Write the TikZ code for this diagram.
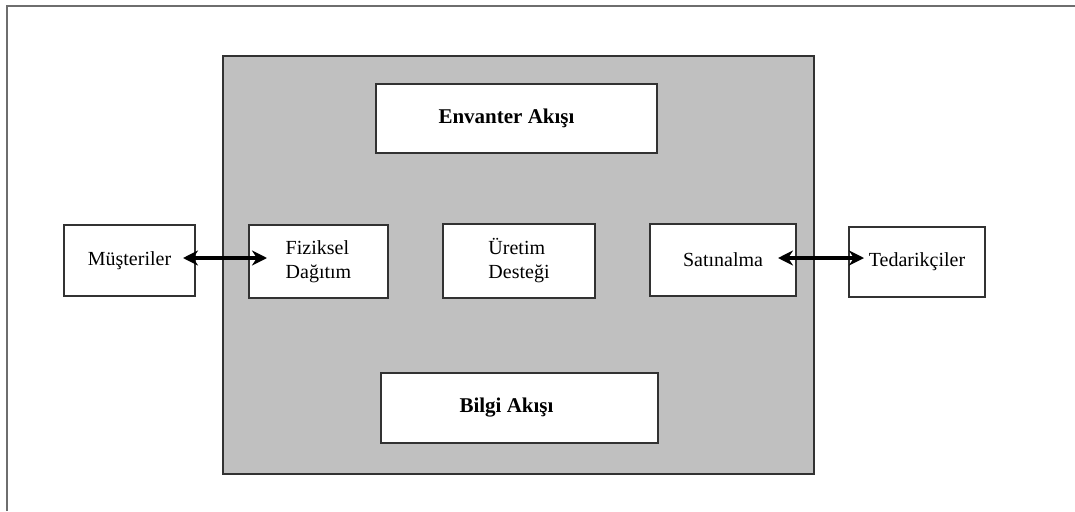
\documentclass[tikz,border=0pt]{standalone}
\usepackage{fontspec}
\setmainfont{Liberation Serif}
\usetikzlibrary{arrows.meta}
\definecolor{panelgrey}{RGB}{192,192,192}
\definecolor{edgegrey}{RGB}{50,50,50}
\definecolor{framegrey}{RGB}{110,110,110}
\begin{document}
\begin{tikzpicture}[x=1pt,y=-1pt,
  box/.style={draw=edgegrey,line width=2.2pt,fill=white,inner sep=0pt,outer sep=0pt,
    font=\fontsize{20}{24}\selectfont},
  bigbox/.style={box,font=\fontsize{21}{25}\selectfont\bfseries},
  link/.style={line width=3.4pt,{Stealth[length=15pt,width=15pt]}-{Stealth[length=15pt,width=15pt]}}]
  \useasboundingbox (0,0) rectangle (1075,511);
  % page frame (left and top edges only)
  \draw[framegrey,line width=2.4pt] (7,511) -- (7,6) -- (1075,6);
  % grey panel holding the internal functions
  \node[draw=edgegrey,line width=2.6pt,fill=panelgrey,minimum width=591pt,minimum height=418pt,
        inner sep=0pt] (panel) at (518.5,265) {};
  % flows
  \node[bigbox,minimum width=281pt,minimum height=69pt] (env) at (516.5,118.5) {\hspace*{-20pt}Envanter Akışı};
  \node[bigbox,minimum width=277pt,minimum height=70pt] (bilgi) at (519.5,408) {\hspace*{-26pt}Bilgi Akışı};
  % functions
  \node[box,minimum width=139pt,minimum height=73pt,align=left] (fiz) at (318.5,261.5) {Fiziksel\\Dağıtım};
  \node[box,minimum width=152pt,minimum height=74pt,align=left] (uret) at (519,261) {Üretim\\Desteği};
  \node[box,minimum width=146pt,minimum height=72pt] (satin) at (723,260) {Satınalma};
  % external parties
  \node[box,minimum width=131pt,minimum height=71pt] (mus) at (129.5,260.5) {Müşteriler};
  \node[box,minimum width=136pt,minimum height=70pt] (ted) at (917,262) {Tedarikçiler};
  % two-way links
  \draw[link,shorten <=-12pt,shorten >=-18pt] ([yshift=2.5pt]mus.east) -- ([yshift=2.5pt]mus.east -| fiz.west);
  \draw[link,shorten <=-18pt,shorten >=-15pt] ([yshift=2pt]satin.east) -- ([yshift=2pt]satin.east -| ted.west);
\end{tikzpicture}
\end{document}
